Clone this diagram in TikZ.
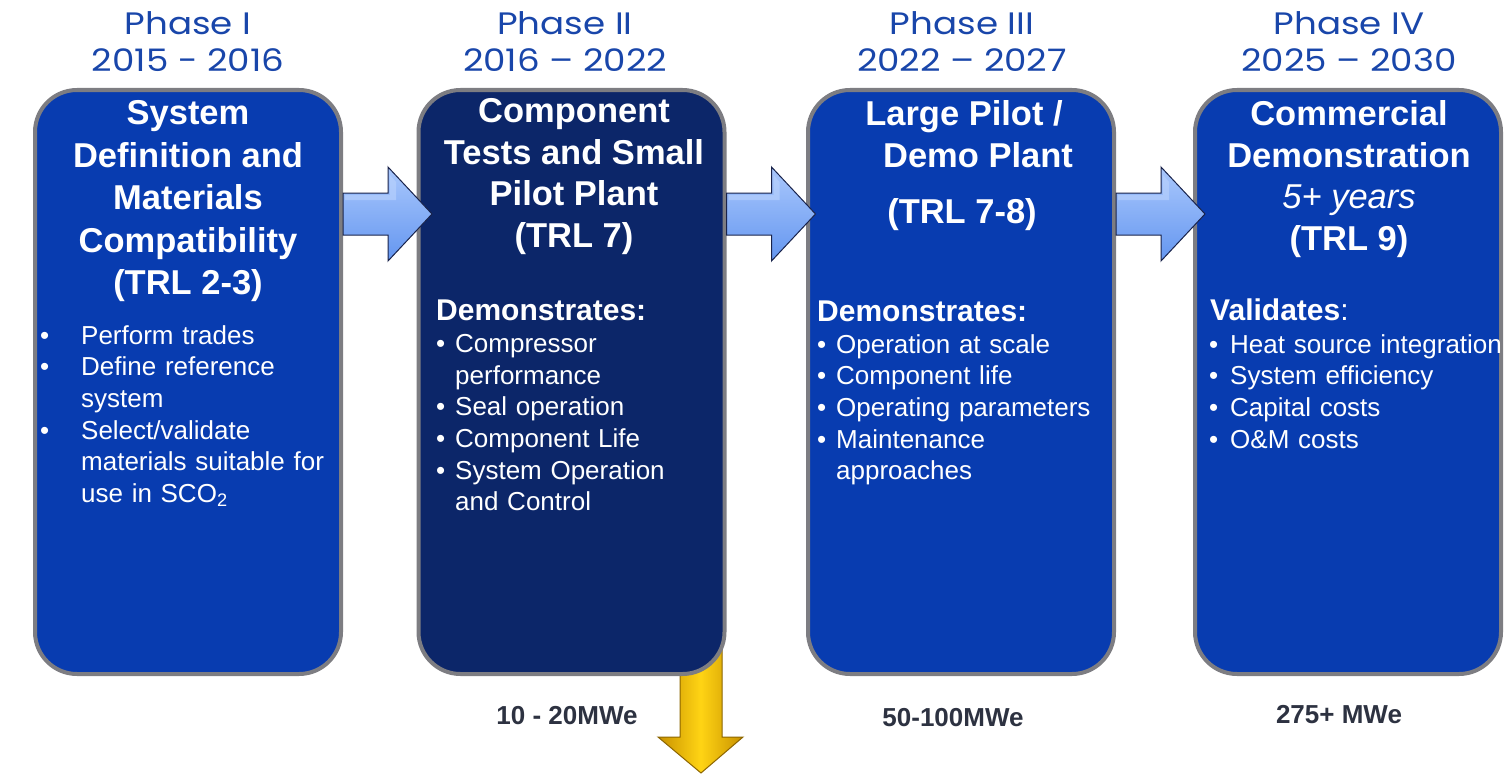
\documentclass[tikz,border=0pt]{standalone}
\usepackage{fontspec}
\setmainfont{Liberation Sans}
\newfontfamily\headfont[FakeStretch=1.15]{Poppins}
\usetikzlibrary{calc}
\definecolor{boxblue}{RGB}{8,60,176}
\definecolor{boxnavy}{RGB}{12,38,105}
\definecolor{rim}{RGB}{125,125,130}
\definecolor{headblue}{RGB}{25,70,170}
\definecolor{mwe}{RGB}{45,50,65}
\definecolor{arrlight}{RGB}{170,200,252}
\definecolor{arrmid}{RGB}{100,150,240}
\definecolor{arredge}{RGB}{25,35,75}
\definecolor{yel}{RGB}{255,212,20}
\definecolor{yeldark}{RGB}{200,145,0}
\newcommand{\phaseitem}[2]{\hangindent=#1\hangafter=1\noindent\makebox[#1][l]{•}#2\par}
\begin{document}
\begin{tikzpicture}[x=1pt,y=-1pt,
  phasebox/.style={draw=rim, line width=4pt, rounded corners=42pt, minimum width=306pt, minimum height=584pt, inner sep=0pt},
  titletext/.style={text=white, font=\bfseries\fontsize{34.5}{42.5}\selectfont, align=center, anchor=north, inner sep=0pt},
  listtext/.style={text=white, font=\fontsize{26}{31.7}\selectfont, anchor=north west, inner sep=0pt, text width=320pt, align=left},
  demotext/.style={text=white, font=\bfseries\fontsize{30}{36}\selectfont, anchor=base west, inner sep=0pt},
  headtext/.style={text=headblue, font=\headfont\fontsize{31}{37.5}\selectfont, align=center, anchor=north, inner sep=0pt},
  mwetext/.style={text=mwe, font=\bfseries\fontsize{26}{30}\selectfont, anchor=base, inner sep=0pt},
  bluearrow/.style={draw=arredge, line width=1pt, top color=arrlight, bottom color=arrmid},
  yellowarrow/.style={draw=yeldark!70!black, line width=1pt, left color=yeldark, right color=yeldark, middle color=yel}
]
\useasboundingbox (0,0) rectangle (1505,776);

% yellow arrow (behind box 2)
\coordinate (ys) at (701,620);
\draw[yellowarrow] ($(ys)+(-21,0)$) -- ++(42,0) -- ++(0,117) -- ++(21,0) -- ++(-42,36) -- ++(-43,-36) -- ++(22,0) -- cycle;

% boxes
\node[phasebox, fill=boxblue] (b1) at (188,382) {};
\node[phasebox, fill=boxnavy] (b2) at (571.5,382) {};
\node[phasebox, fill=boxblue] (b3) at (961,382) {};
\node[phasebox, fill=boxblue] (b4) at (1348,382) {};

% blue arrows
\foreach \s in {b1,b2,b3}{
  \coordinate (\s arr) at (\s.east |- 0,214);
  \draw[bluearrow] ($(\s arr)+(0,-21)$) -- ++(45,0) -- ++(0,-26) -- ++(44,47) -- ++(-44,47) -- ++(0,-26) -- ++(-45,0) -- cycle;
  \fill[arrlight!80!white, opacity=0.6] ($(\s arr)+(2,-19)$) -- ++(45,0) -- ++(0,-20) -- ++(6,7) -- ++(0,18) -- ++(-51,0) -- cycle;
}

% headings
\node[headtext] (h1) at (188,11) {Phase I\\2015 - 2016};
\node[headtext] (h2) at (565,11) {Phase II\\2016 – 2022};
\node[headtext] (h3) at (962,11) {Phase III\\2022 – 2027};
\node[headtext] (h4) at (1349,11) {Phase IV\\2025 – 2030};

% box 1
\node[titletext] (t1) at (188,100.5) {System\\Definition and\\Materials\\Compatibility\\(TRL 2-3)};
\node[listtext] (l1) at (40,325) {%
  \phaseitem{41pt}{Perform trades}%
  \phaseitem{41pt}{Define reference\newline system}%
  \phaseitem{41pt}{Select/validate\newline materials suitable for\newline use in SCO\textsubscript{2}}};

% box 2
\node[titletext, font=\bfseries\fontsize{34.5}{41.5}\selectfont] (t2) at (574,98.5) {Component\\Tests and Small\\Pilot Plant\\(TRL 7)};
\node[demotext] (d2) at (436,320) {Demonstrates:};
\node[listtext] (l2) at (436,334) {%
  \phaseitem{19pt}{Compressor\newline performance}%
  \phaseitem{19pt}{Seal operation}%
  \phaseitem{19pt}{Component Life}%
  \phaseitem{19pt}{System Operation\newline and Control}};

% box 3
\node[titletext] (t3a) at (964,100.5) {Large Pilot /};
\node[titletext] (t3b) at (978,142) {Demo Plant};
\node[titletext] (t3c) at (962,198) {(TRL 7-8)};
\node[demotext] (d3) at (817,321) {Demonstrates:};
\node[listtext] (l3) at (817,334) {%
  \phaseitem{19pt}{Operation at scale}%
  \phaseitem{19pt}{Component life}%
  \phaseitem{19pt}{Operating parameters}%
  \phaseitem{19pt}{Maintenance\newline approaches}};

% box 4
\node[titletext, font=\bfseries\fontsize{34.5}{41.5}\selectfont] (t4) at (1349,100.5) {Commercial\\Demonstration\\{\mdseries\itshape 5+ years}\\(TRL 9)};
\node[demotext] (d4) at (1210,320) {Validates{\mdseries :}};
\node[listtext] (l4) at (1209,334) {%
  \phaseitem{21pt}{Heat source integration}%
  \phaseitem{21pt}{System efficiency}%
  \phaseitem{21pt}{Capital costs}%
  \phaseitem{21pt}{O\&M costs}};

% capacities
\node[mwetext] (m2) at (567,724) {10 - 20MWe};
\node[mwetext] (m3) at (953,726) {50-100MWe};
\node[mwetext] (m4) at (1339,723) {275+ MWe};
\end{tikzpicture}
\end{document}
